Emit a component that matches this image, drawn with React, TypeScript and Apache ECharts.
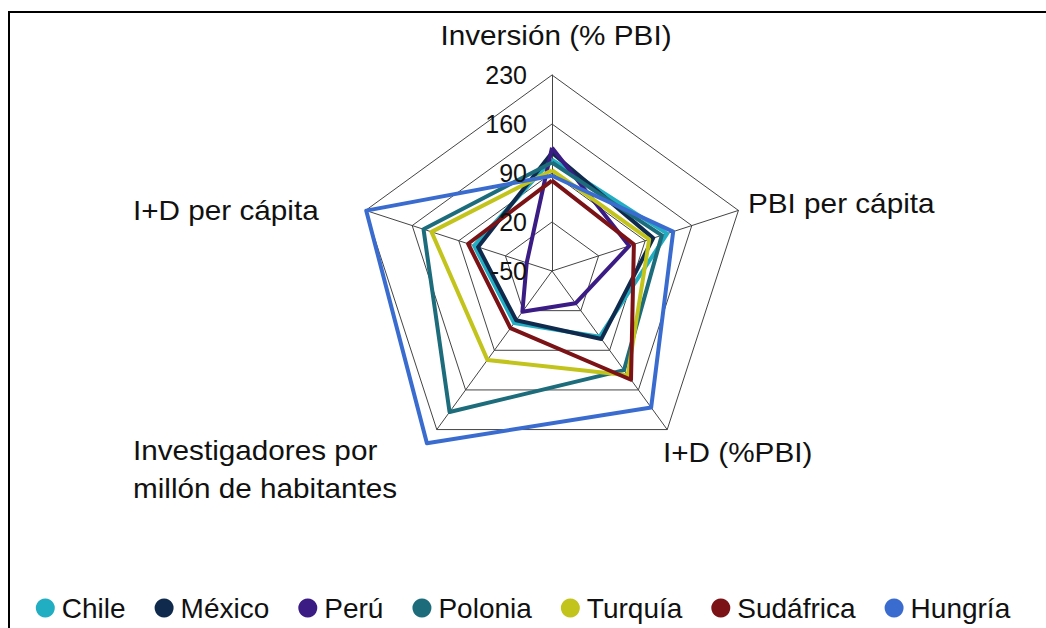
import React, { useEffect, useRef } from "react";
import * as echarts from "echarts";

// Indicators in ECharts order (counter-clockwise from the top)
const categories = [
  "Inversión (% PBI)",
  "I+D per cápita",
  "Investigadores por\nmillón de habitantes",
  "I+D (%PBI)",
  "PBI per cápita",
];
const tickValues = [-50, 20, 90, 160, 230];

const seriesNames = ["Chile", "México", "Perú", "Polonia", "Turquía", "Sudáfrica", "Hungría"];
const chile = [109, 67, 42, 66, 123];
const mexico = [119, 61, 37, 70, 102];
const peru = [126, -12, 22, 7, 66];
const polonia = [105, 143, 199, 125, 115];
const turquia = [94, 131, 107, 134, 96];
const sudafrica = [79, 76, 51, 142, 73];
const hungria = [86, 229, 254, 191, 132];
const seriesValues = [chile, mexico, peru, polonia, turquia, sudafrica, hungria];
const seriesColors = ["#22AEC2", "#0F2A4C", "#3A1C84", "#1C6C7C", "#C2C41C", "#7A1216", "#3A6CD0"];

const FONT = "'Liberation Sans', Arial, sans-serif";

export default function App() {
  const ref = useRef<HTMLDivElement>(null);
  useEffect(() => {
    if (!ref.current) return;
    const chart = echarts.init(ref.current, null, { renderer: "svg" });
    const cx = 552, cy = 271, R = 196;
    const min = tickValues[0], max = tickValues[tickValues.length - 1];
    const tickTexts = tickValues.map((v) => ({
      type: "text",
      x: 527,
      y: cy - ((v - min) / (max - min)) * R,
      style: { text: String(v), fontSize: 25, fontFamily: FONT, fill: "#111", align: "right", verticalAlign: "middle" },
      z: 10,
    }));
    const namePos = [
      { x: 556, y: 35, align: "center" },
      { x: 133, y: 210, align: "left" },
      { x: 133, y: 469, align: "left" },
      { x: 663, y: 452, align: "left" },
      { x: 748, y: 203, align: "left" },
    ];
    const nameTexts = categories.map((c, i) => ({
      type: "text",
      x: namePos[i].x,
      y: namePos[i].y,
      scaleX: 1.1,
      style: {
        text: c,
        fontSize: 27,
        lineHeight: 38,
        fontFamily: FONT,
        fill: "#111",
        align: namePos[i].align,
        verticalAlign: "middle",
      },
    }));
    chart.setOption({
      animation: false,
      backgroundColor: "#fff",
      graphic: [
        { type: "rect", shape: { x: 9, y: 12, width: 1100, height: 700 }, style: { fill: "none", stroke: "#000", lineWidth: 2 } },
        ...tickTexts,
        ...nameTexts,
      ],
      legend: {
        top: 589,
        left: "center",
        icon: "circle",
        itemWidth: 19,
        itemHeight: 19,
        itemGap: 29,
        textStyle: { fontSize: 28, fontFamily: FONT, color: "#111", padding: [0, 0, 0, 2] },
        data: seriesNames,
      },
      radar: {
        center: [cx, cy],
        radius: R,
        startAngle: 90,
        splitNumber: 4,
        shape: "polygon",
        indicator: categories.map((c) => ({ name: c, min, max })),
        axisName: { show: false },
        axisLine: { lineStyle: { color: "#444", width: 1 } },
        splitLine: { lineStyle: { color: "#444", width: 1 } },
        splitArea: { show: false },
        axisLabel: { show: false },
        axisTick: { show: false },
      },
      series: [
        {
          type: "radar",
          symbol: "none",
          data: seriesNames.map((n, i) => ({
            name: n,
            value: seriesValues[i],
            lineStyle: { color: seriesColors[i], width: 4 },
            itemStyle: { color: seriesColors[i] },
          })),
        },
      ],
    });
    return () => chart.dispose();
  }, []);
  return <div ref={ref} style={{ position: "fixed", left: 0, top: 0, width: 1046, height: 628 }} />;
}
